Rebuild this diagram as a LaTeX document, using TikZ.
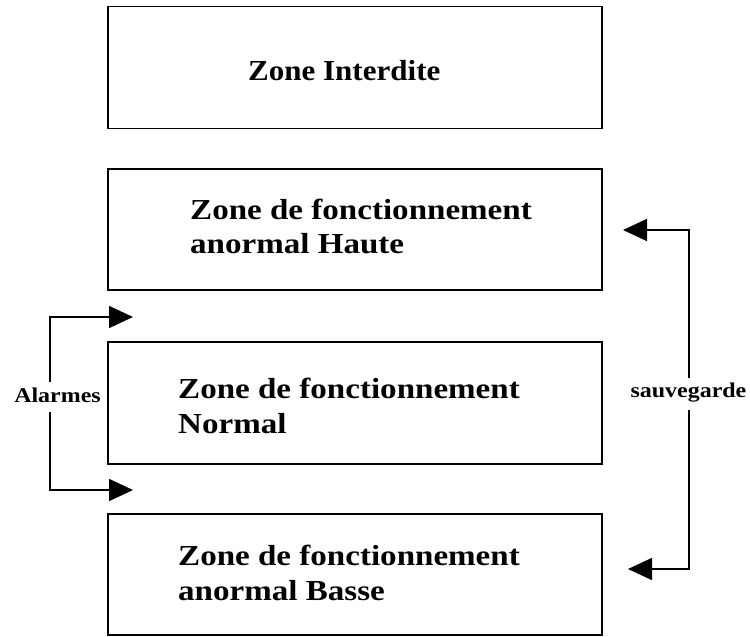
\documentclass[tikz,border=0pt]{standalone}
\usepackage{fontspec}
\setmainfont{Liberation Serif}[FakeStretch=1.14]
\newfontfamily\titleserif{Liberation Serif}[FakeStretch=1.07]
\usetikzlibrary{arrows.meta}
\begin{document}
\begin{tikzpicture}[x=1pt,y=-1pt,
  zonebox/.style={draw, line width=1.6pt, minimum width=494pt, inner sep=0pt},
  zonetext/.style={anchor=base west, align=left, inner sep=0pt,
    font=\fontsize{29}{34.5}\selectfont\bfseries},
  sidelabel/.style={inner sep=0pt, font=\fontsize{21}{24}\selectfont\bfseries},
  flow/.style={line width=1.6pt, -{Triangle[length=24pt,width=22pt]}}]
\useasboundingbox (0,0) rectangle (750,637);

% the four zones, from top to bottom
\node[zonebox, minimum height=122pt] (interdite) at (355,67.5) {};
\node[zonebox, minimum height=121pt] (haute)     at (355,229.5) {};
\node[zonebox, minimum height=122pt] (normal)    at (355,403) {};
\node[zonebox, minimum height=121pt] (basse)     at (355,574.5) {};

% zone names (anchored on the baseline of their last line)
\node[zonetext, font=\fontsize{29}{34.5}\titleserif\bfseries] (tInterdite) at (248,80) {Zone Interdite};
\node[zonetext] (tHaute)  at (190,253.5) {Zone de fonctionnement\\anormal Haute};
\node[zonetext] (tNormal) at (178,433) {Zone de fonctionnement\\Normal};
\node[zonetext] (tBasse)  at (178,600) {Zone de fonctionnement\\anormal Basse};

% alarm thresholds on the left
\node[sidelabel, anchor=base] (alarmes) at (57.5,402) {Alarmes};
\coordinate (aStartHi) at (50,382);
\coordinate (aStartLo) at (50,412);
\coordinate (aHi) at (133,317);
\coordinate (aLo) at (133,490);
\draw[flow] (aStartHi) |- (aHi);
\draw[flow] (aStartLo) |- (aLo);

% safeguard action on the right
\node[sidelabel, anchor=base] (sauvegarde) at (688.5,397) {sauvegarde};
\coordinate (sStartHi) at (689,378);
\coordinate (sStartLo) at (689,410);
\coordinate (sHi) at (623,230);
\coordinate (sLo) at (628,569);
\draw[flow] (sStartHi) |- (sHi);
\draw[flow] (sStartLo) |- (sLo);
\end{tikzpicture}
\end{document}
